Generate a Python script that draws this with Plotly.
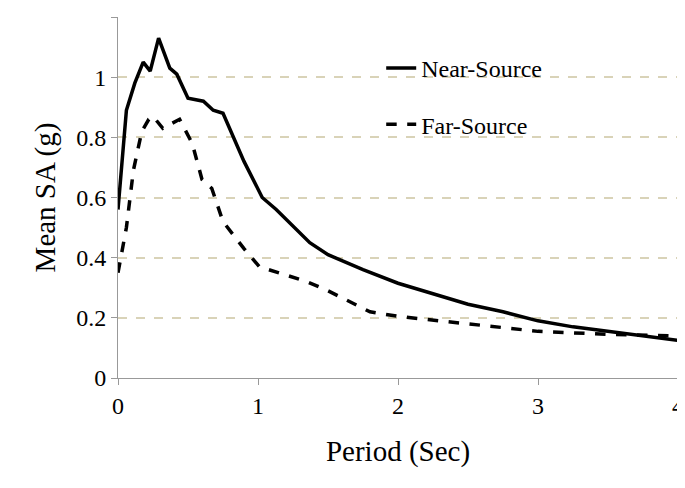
import plotly.graph_objects as go

# Near-source mean spectrum
near_t = [0, 0.06, 0.12, 0.18, 0.23, 0.29, 0.37, 0.42, 0.5, 0.61, 0.68, 0.75, 0.9, 1.03,
          1.13, 1.37, 1.5, 1.75, 2.0, 2.25, 2.5, 2.75, 3.0, 3.25, 3.5, 3.75, 4.0]
near_sa = [0.56, 0.89, 0.98, 1.05, 1.02, 1.13, 1.03, 1.01, 0.93, 0.92, 0.89, 0.88, 0.72, 0.60,
           0.56, 0.45, 0.41, 0.36, 0.315, 0.28, 0.245, 0.22, 0.19, 0.17, 0.155, 0.14, 0.125]

# Far-source mean spectrum
far_t = [0, 0.06, 0.11, 0.17, 0.22, 0.25, 0.32, 0.44, 0.53, 0.6, 0.67, 0.75, 0.9, 1.01,
         1.35, 1.5, 1.8, 2.0, 2.5, 3.0, 3.5, 4.0]
far_sa = [0.35, 0.50, 0.69, 0.82, 0.86, 0.87, 0.83, 0.86, 0.78, 0.66, 0.63, 0.52, 0.43, 0.37,
          0.32, 0.29, 0.22, 0.205, 0.18, 0.155, 0.145, 0.14]

fig = go.Figure()
fig.add_trace(go.Scatter(x=near_t, y=near_sa, mode="lines", name="Near-Source",
                         legendgroup="a", line=dict(color="black", width=3.5)))
fig.add_trace(go.Scatter(x=far_t, y=far_sa, mode="lines", name="Far-Source",
                         legendgroup="b", line=dict(color="black", width=3.5, dash="dash")))

font = dict(family="Liberation Serif", size=24, color="black")
fig.update_layout(
    width=685, height=488,
    margin=dict(l=110, r=15, t=9, b=118),
    plot_bgcolor="white", paper_bgcolor="white",
    font=font,
    legend=dict(x=0.47, y=0.92, xanchor="left", yanchor="top", tracegroupgap=22,
                bgcolor="rgba(0,0,0,0)", font=dict(family="Liberation Serif", size=24)),
    xaxis=dict(title=dict(text="Period (Sec)", standoff=22), range=[0, 4], dtick=1,
               showgrid=False, zeroline=False, showline=True, linecolor="#999",
               ticks="outside", tickcolor="#999", ticklen=6),
    yaxis=dict(title=dict(text="Mean SA (g)", standoff=12), range=[0, 1.2], dtick=0.2,
               showgrid=True, gridcolor="#d9d3b8", griddash="dash", gridwidth=2,
               zeroline=False, showline=True, linecolor="#999",
               ticks="outside", tickcolor="#999", ticklen=6),
)
fig.write_html("out.html")
